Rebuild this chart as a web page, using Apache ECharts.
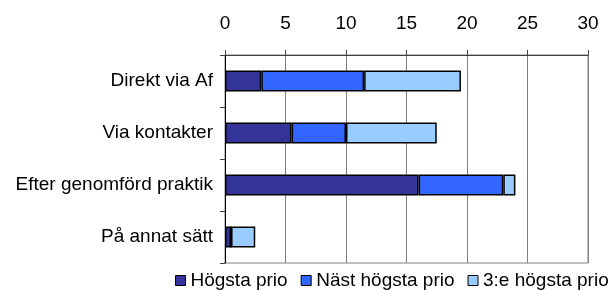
<!DOCTYPE html>
<html><head><meta charset="utf-8">
<script src="https://cdn.jsdelivr.net/npm/echarts@6/dist/echarts.min.js"></script>
<style>html,body{margin:0;padding:0;background:#fff}#c{width:613px;height:291px}</style>
</head><body><div id="c"></div>
<script>
const categories = ["Direkt via Af", "Via kontakter", "Efter genomförd praktik", "På annat sätt"];
const seriesNames = ["Högsta prio", "Näst högsta prio", "3:e högsta prio"];
const hogsta = [3, 5.5, 16, 0.5];
const nast = [8.5, 4.5, 7, 0];
const tredje = [8, 7.5, 1, 2];
const colors = ["#333399", "#3366FF", "#99CCFF"];
const xTicks = { min: 0, max: 30, interval: 5 };

const font = "Liberation Sans, Arial, sans-serif";
const chart = echarts.init(document.getElementById('c'), null, { renderer: 'canvas' });
const values = [hogsta, nast, tredje];
chart.setOption({
  animation: false,
  grid: { left: 225, right: 25, top: 55, bottom: 28, show: true, borderColor: '#808080', borderWidth: 1, containLabel: false },
  legend: {
    left: 175, top: 271, width: 700, padding: 0, itemWidth: 10, itemHeight: 10, itemGap: 13,
    textStyle: { fontFamily: font, fontSize: 19, color: '#000' },
    data: seriesNames.map((n, i) => ({ name: n, icon: 'rect', itemStyle: { color: colors[i], borderColor: '#000', borderWidth: 1 } }))
  },
  xAxis: {
    type: 'value', position: 'top', min: xTicks.min, max: xTicks.max, interval: xTicks.interval,
    axisLine: { show: true, lineStyle: { color: '#404040', width: 1 } },
    axisTick: { show: true, length: 5, lineStyle: { color: '#404040' } },
    axisLabel: { margin: 22, fontFamily: font, fontSize: 19, color: '#000' },
    splitLine: { show: true, lineStyle: { color: '#808080', width: 1 } }
  },
  yAxis: {
    type: 'category', inverse: true, data: categories,
    axisLine: { show: true, lineStyle: { color: '#000', width: 1 } },
    axisTick: { show: true, length: 5, lineStyle: { color: '#404040' } },
    axisLabel: { margin: 12, fontFamily: font, fontSize: 19, color: '#000' }
  },
  series: seriesNames.map((n, i) => ({
    name: n, type: 'bar', stack: 'total', barWidth: '40%',
    data: values[i],
    itemStyle: { color: colors[i], borderColor: '#000', borderWidth: 1.5 }
  }))
});
</script></body></html>
